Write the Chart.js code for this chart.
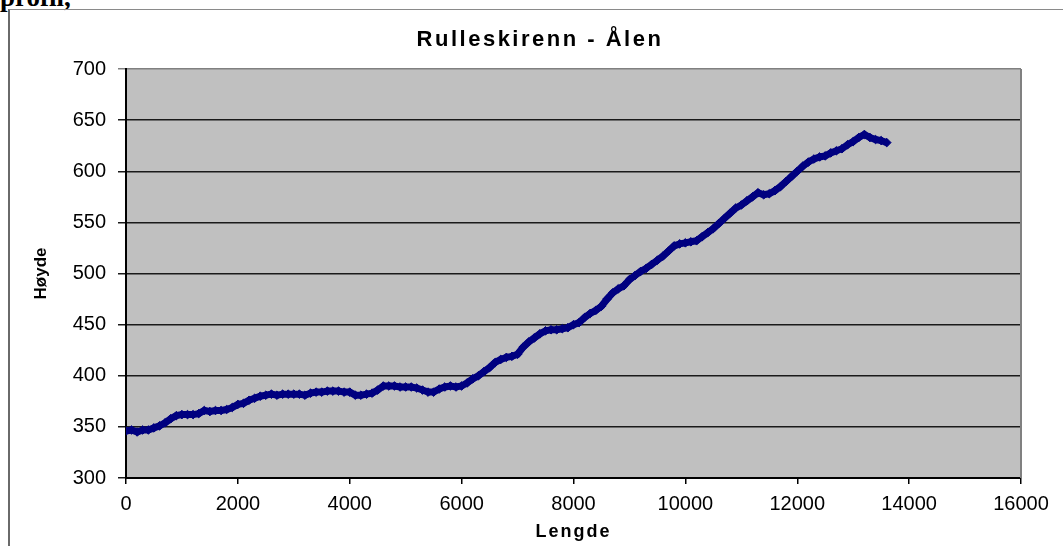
<!DOCTYPE html>
<html>
<head>
<meta charset="utf-8">
<script src="https://cdn.jsdelivr.net/npm/chart.js@4.4.1/dist/chart.umd.min.js"></script>
<style>
  html, body { margin: 0; padding: 0; background: #fff; overflow: hidden; width: 1063px; height: 546px; }
  #top { position: absolute; left: 0; top: -16px; font: bold 27px "Liberation Serif", "Times New Roman", serif; line-height: 27px; color: #000; white-space: nowrap; }
  #frame { position: absolute; left: 8px; top: 9px; width: 1200px; height: 700px; border-left: 2px solid #6a6a6a; border-top: 1px solid #8a8a8a; }
  #wrap { position: absolute; left: 0; top: 0; width: 1080px; height: 546px; }
</style>
</head>
<body>
<div id="top">profil,</div>
<div id="frame"></div>
<div id="wrap"><canvas id="c" width="1080" height="546"></canvas></div>
<script>
// Data
const chartTitle = "Rulleskirenn - Ålen";
const xTitle = "Lengde";
const yTitle = "Høyde";
const lengde = [0,100,200,300,400,500,600,700,800,900,1000,1100,1200,1300,1400,1500,1600,1700,1800,1900,
  2000,2100,2200,2300,2400,2500,2600,2700,2800,2900,3000,3100,3200,3300,3400,3500,3600,3700,3800,3900,
  4000,4100,4200,4300,4400,4500,4600,4700,4800,4900,5000,5100,5200,5300,5400,5500,5600,5700,5800,5900,
  6000,6100,6200,6300,6400,6500,6600,6700,6800,6900,7000,7100,7200,7300,7400,7500,7600,7700,7800,7900,
  8000,8100,8200,8300,8400,8500,8600,8700,8800,8900,9000,9100,9200,9300,9400,9500,9600,9700,9800,9900,
  10000,10100,10200,10300,10400,10500,10600,10700,10800,10900,11000,11100,11200,11300,11400,11500,11600,11700,11800,11900,
  12000,12100,12200,12300,12400,12500,12600,12700,12800,12900,13000,13100,13200,13300,13400,13500,13600];
const hoyde = [346,347,345,347,347,349,351,354,358,361,362,362,362,363,366,365,366,366,367,369,
  372,373,376,378,380,381,382,381,382,382,382,382,381,383,384,384,385,385,385,384,
  384,381,381,382,383,386,390,390,390,389,389,389,388,386,384,384,387,389,390,389,
  390,393,397,400,404,408,413,416,418,419,421,428,433,437,441,444,445,445,446,447,
  450,452,457,461,464,468,475,481,485,488,494,498,502,505,509,513,517,522,527,529,
  530,531,532,536,540,544,549,554,559,564,567,571,575,579,577,578,581,585,590,595,
  600,605,609,612,614,615,618,620,622,626,629,633,636,633,631,630,628];
const xMin = 0, xMax = 16000, xStep = 2000;
const yMin = 300, yMax = 700, yStep = 50;

const points = lengde.map((x, i) => ({ x: x, y: hoyde[i] }));

const plotBg = {
  id: 'plotBg',
  beforeDraw(chart) {
    const { ctx, chartArea: a } = chart;
    ctx.save();
    ctx.fillStyle = '#c0c0c0';
    ctx.fillRect(a.left, a.top, a.right - a.left, a.bottom - a.top);
    ctx.restore();
  },
  afterDraw(chart) {
    const { ctx, chartArea: a } = chart;
    ctx.save();
    ctx.strokeStyle = '#808080';
    ctx.lineWidth = 2;
    ctx.beginPath();
    ctx.moveTo(a.right, a.top);
    ctx.lineTo(a.right, a.bottom);
    ctx.stroke();
    ctx.restore();
  }
};

// widen letter spacing for the titles (as in the reference)
const spacing = {
  id: 'spacing',
  beforeDraw(chart) {
    if (chart._spacedDone) return;
    chart._spacedDone = true;
    const wrap = (obj, fnName, sp) => {
      const orig = obj[fnName];
      obj[fnName] = function () {
        const c = chart.ctx;
        const prev = c.letterSpacing;
        c.letterSpacing = sp;
        const r = orig.apply(this, arguments);
        c.letterSpacing = prev;
        return r;
      };
    };
    if (chart.titleBlock) wrap(chart.titleBlock, 'draw', '2.5px');
    wrap(chart.scales.x, 'drawTitle', '2px');
  }
};

const tickFont = { family: '"Liberation Sans", Arial, sans-serif', size: 20 };

new Chart(document.getElementById('c'), {
  type: 'line',
  data: {
    datasets: [{
      data: points,
      borderColor: '#000080',
      backgroundColor: '#000080',
      borderWidth: 7,
      pointStyle: 'rectRot',
      pointRadius: 4.3,
      pointBorderWidth: 1,
      pointBorderColor: '#000080',
      pointBackgroundColor: '#000080',
      tension: 0,
      fill: false
    }]
  },
  options: {
    responsive: false,
    animation: false,
    layout: { padding: { left: 59, right: 59, top: 0, bottom: 0 } },
    plugins: {
      legend: { display: false },
      tooltip: { enabled: false },
      title: {
        display: true,
        text: chartTitle,
        color: '#000',
        font: { family: '"Liberation Sans", Arial, sans-serif', size: 22, weight: 'bold' },
        padding: { top: 26.8, bottom: 15.8 }
      }
    },
    scales: {
      x: {
        type: 'linear',
        min: xMin, max: xMax,
        afterFit(s) { s.height = 68; },
        ticks: { stepSize: xStep, color: '#000', font: tickFont, padding: 8, maxRotation: 0, autoSkip: false,
          callback: (v) => String(v) },
        grid: { drawOnChartArea: false, drawTicks: true, tickLength: 6, color: '#000', lineWidth: 1.5 },
        border: { display: true, color: '#000', width: 2 },
        title: { display: true, text: xTitle, color: '#000',
          font: { family: '"Liberation Sans", Arial, sans-serif', size: 18, weight: 'bold' },
          padding: { top: 0, bottom: 3 } }
      },
      y: {
        type: 'linear',
        min: yMin, max: yMax,
        afterFit(s) { s.width = 67; },
        ticks: { stepSize: yStep, color: '#000', font: tickFont, padding: 12,
          callback: (v) => String(v) },
        grid: {
          drawOnChartArea: true, drawTicks: true, tickLength: 8, lineWidth: 1.5,
          color: (ctx) => (ctx.tick && ctx.tick.value === yMax) ? '#808080' : '#1a1a1a'
        },
        border: { display: true, color: '#000', width: 2 },
        title: { display: true, text: yTitle, color: '#000',
          font: { family: '"Liberation Sans", Arial, sans-serif', size: 17, weight: 'bold' },
          padding: { top: -27.7, bottom: 0 } }
      }
    }
  },
  plugins: [plotBg, spacing]
});
</script>
</body>
</html>
